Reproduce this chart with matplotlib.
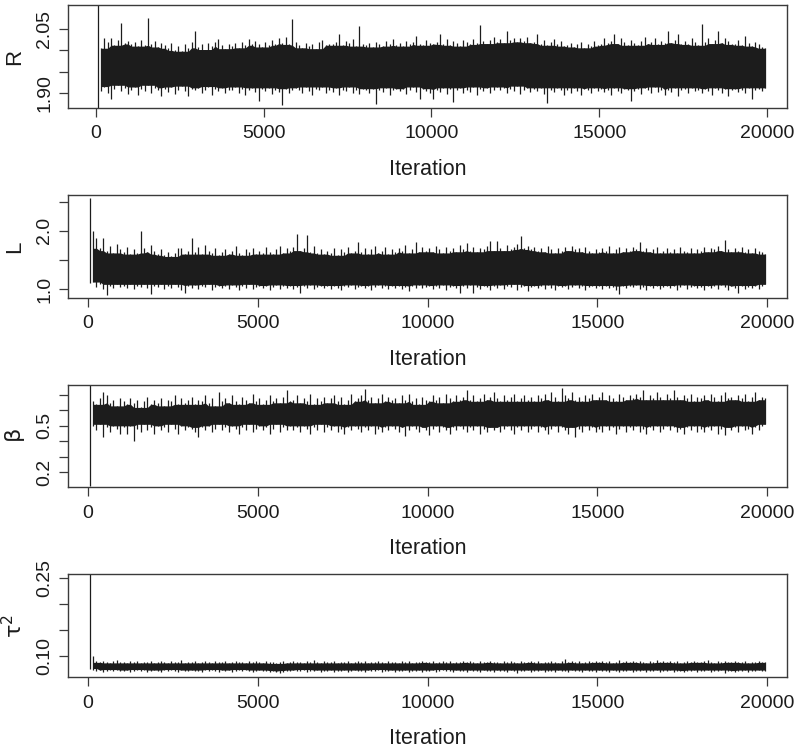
import matplotlib
matplotlib.use("Agg")
import matplotlib.pyplot as plt
import numpy as np

plt.rcParams['font.family'] = ['Liberation Sans', 'DejaVu Sans']
plt.rcParams['mathtext.fontset'] = 'dejavusans'

# ---- data: per-100-iteration envelope (max / min) of each MCMC trace ----
BIN = 100
R_hi = [2.15, 2.005, 2.030, 2.020, 2.028, 2.012, 2.025, 2.064, 2.018, 2.022,
        2.015, 2.020, 2.010, 2.024, 2.012, 2.075, 2.016, 2.022, 2.008, 2.018,
        2.012, 2.005, 2.018, 2.000, 2.010, 1.998, 2.014, 2.006, 2.020, 2.046,
        2.008, 2.015, 2.002, 2.018, 2.010, 2.020, 2.026, 2.012, 2.004, 2.016,
        2.010, 2.018, 2.006, 2.020, 2.012, 2.026, 2.014, 2.022, 2.016, 2.008,
        2.020, 2.012, 2.024, 2.016, 2.030, 2.018, 2.032, 2.014, 2.074, 2.020,
        2.012, 2.006, 2.018, 2.010, 2.015, 2.004, 2.020, 2.024, 2.012, 2.016,
        2.014, 2.020, 2.038, 2.012, 2.022, 2.018, 2.026, 2.010, 2.058, 2.016,
        2.012, 2.018, 2.008, 2.020, 2.014, 2.010, 2.022, 2.016, 2.026, 2.012,
        2.018, 2.010, 2.022, 2.014, 2.020, 2.034, 2.016, 2.012, 2.024, 2.018,
        2.015, 2.020, 2.038, 2.014, 2.026, 2.012, 2.022, 2.018, 2.010, 2.024,
        2.020, 2.014, 2.026, 2.018, 2.060, 2.022, 2.016, 2.024, 2.032, 2.020,
        2.026, 2.018, 2.045, 2.024, 2.030, 2.020, 2.028, 2.022, 2.032, 2.018,
        2.020, 2.038, 2.016, 2.024, 2.012, 2.020, 2.026, 2.014, 2.022, 2.010,
        2.012, 2.018, 2.008, 2.014, 2.020, 2.006, 2.016, 2.010, 2.022, 2.012,
        2.014, 2.028, 2.018, 2.022, 2.038, 2.016, 2.030, 2.020, 2.012, 2.024,
        2.018, 2.012, 2.022, 2.032, 2.016, 2.020, 2.028, 2.014, 2.022, 2.018,
        2.046, 2.018, 2.024, 2.038, 2.016, 2.022, 2.014, 2.028, 2.020, 2.012,
        2.062, 2.020, 2.028, 2.016, 2.024, 2.046, 2.018, 2.030, 2.022, 2.014,
        2.016, 2.024, 2.012, 2.034, 2.018, 2.010, 2.020, 2.014, 2.008, 2.005]
R_lo = [1.80, 1.905, 1.915, 1.900, 1.885, 1.910, 1.918, 1.904, 1.912, 1.898,
        1.908, 1.914, 1.896, 1.910, 1.904, 1.918, 1.900, 1.912, 1.906, 1.892,
        1.910, 1.902, 1.914, 1.898, 1.908, 1.916, 1.904, 1.894, 1.910, 1.906,
        1.912, 1.900, 1.908, 1.915, 1.896, 1.910, 1.904, 1.912, 1.900, 1.908,
        1.906, 1.914, 1.900, 1.910, 1.896, 1.908, 1.912, 1.902, 1.880, 1.910,
        1.904, 1.912, 1.898, 1.908, 1.902, 1.871, 1.910, 1.900, 1.906, 1.912,
        1.908, 1.900, 1.914, 1.904, 1.896, 1.910, 1.906, 1.914, 1.900, 1.908,
        1.902, 1.912, 1.896, 1.908, 1.904, 1.914, 1.900, 1.908, 1.898, 1.910,
        1.906, 1.900, 1.910, 1.875, 1.908, 1.902, 1.912, 1.896, 1.906, 1.910,
        1.904, 1.910, 1.898, 1.908, 1.914, 1.902, 1.886, 1.910, 1.904, 1.900,
        1.885, 1.908, 1.902, 1.912, 1.898, 1.910, 1.878, 1.906, 1.912, 1.900,
        1.908, 1.902, 1.914, 1.896, 1.910, 1.904, 1.912, 1.900, 1.908, 1.914,
        1.906, 1.912, 1.900, 1.910, 1.904, 1.916, 1.898, 1.908, 1.912, 1.902,
        1.910, 1.904, 1.912, 1.898, 1.876, 1.908, 1.902, 1.912, 1.906, 1.896,
        1.908, 1.900, 1.912, 1.904, 1.896, 1.910, 1.906, 1.900, 1.912, 1.904,
        1.910, 1.902, 1.908, 1.896, 1.912, 1.904, 1.900, 1.910, 1.906, 1.882,
        1.904, 1.910, 1.898, 1.912, 1.906, 1.900, 1.914, 1.902, 1.908, 1.896,
        1.908, 1.902, 1.912, 1.894, 1.906, 1.910, 1.900, 1.912, 1.904, 1.908,
        1.900, 1.910, 1.904, 1.896, 1.912, 1.906, 1.900, 1.910, 1.894, 1.906,
        1.910, 1.902, 1.908, 1.900, 1.912, 1.885, 1.906, 1.910, 1.904, 1.912]

L_hi = [2.57, 2.00, 1.88, 1.70, 1.88, 1.66, 1.74, 1.62, 1.78, 1.68,
        1.64, 1.72, 1.60, 1.68, 1.62, 1.995, 1.70, 1.64, 1.76, 1.66,
        1.60, 1.68, 1.58, 1.64, 1.56, 1.62, 1.70, 1.71, 1.60, 1.66,
        1.88, 1.64, 1.72, 1.60, 1.76, 1.66, 1.62, 1.70, 1.58, 1.64,
        1.68, 1.60, 1.66, 1.74, 1.62, 1.58, 1.68, 1.64, 1.70, 1.60,
        1.66, 1.62, 1.72, 1.64, 1.60, 1.68, 1.74, 1.62, 1.70, 1.66,
        1.72, 1.94, 1.66, 1.70, 1.92, 1.64, 1.74, 1.62, 1.68, 1.60,
        1.66, 1.62, 1.70, 1.58, 1.68, 1.64, 1.72, 1.62, 1.66, 1.80,
        1.64, 1.70, 1.60, 1.68, 1.74, 1.62, 1.66, 1.72, 1.60, 1.68,
        1.64, 1.70, 1.66, 1.76, 1.62, 1.68, 1.80, 1.64, 1.72, 1.66,
        1.70, 1.64, 1.74, 1.68, 1.62, 1.72, 1.66, 1.70, 1.64, 1.76,
        1.68, 1.79, 1.66, 1.72, 1.64, 1.70, 1.68, 1.74, 1.83, 1.66,
        1.82, 1.70, 1.66, 1.76, 1.68, 1.72, 1.78, 1.91, 1.70, 1.74,
        1.68, 1.72, 1.66, 1.70, 1.64, 1.74, 1.68, 1.62, 1.70, 1.66,
        1.72, 1.66, 1.74, 1.68, 1.70, 1.64, 1.72, 1.66, 1.62, 1.68,
        1.64, 1.70, 1.66, 1.74, 1.62, 1.68, 1.72, 1.64, 1.70, 1.66,
        1.72, 1.68, 1.80, 1.66, 1.70, 1.64, 1.68, 1.72, 1.62, 1.66,
        1.70, 1.64, 1.68, 1.62, 1.72, 1.66, 1.64, 1.70, 1.62, 1.68,
        1.66, 1.72, 1.64, 1.70, 1.68, 1.74, 1.66, 1.85, 1.68, 1.64,
        1.70, 1.66, 1.72, 1.64, 1.68, 1.62, 1.70, 1.66, 1.64, 1.60]
L_lo = [1.10, 1.12, 1.04, 1.08, 1.00, 0.89, 1.06, 1.02, 1.08, 1.04,
        1.06, 1.02, 1.08, 1.00, 1.05, 1.03, 1.08, 1.01, 0.92, 1.06,
        1.04, 1.08, 1.00, 1.06, 1.02, 1.08, 1.04, 0.98, 0.93, 1.06,
        1.02, 1.07, 1.00, 1.05, 1.03, 1.08, 0.99, 1.04, 1.06, 1.01,
        1.05, 1.00, 1.07, 1.03, 0.98, 1.06, 1.02, 1.08, 1.00, 1.04,
        1.06, 1.01, 1.05, 0.98, 1.04, 1.07, 1.00, 1.05, 1.02, 1.06,
        1.00, 1.04, 0.93, 1.06, 1.02, 1.07, 1.00, 1.04, 1.06, 1.01,
        1.05, 1.00, 1.06, 1.02, 0.98, 1.05, 1.03, 1.07, 1.00, 1.04,
        1.06, 1.01, 1.05, 0.99, 1.04, 1.07, 1.02, 1.05, 1.00, 1.06,
        1.02, 1.06, 1.00, 1.04, 0.97, 1.05, 1.02, 1.07, 1.01, 1.04,
        1.06, 1.00, 1.05, 1.02, 1.07, 0.99, 1.04, 1.06, 1.01, 0.93,
        1.05, 1.02, 1.07, 0.93, 1.04, 1.00, 1.06, 1.03, 0.98, 1.05,
        1.02, 1.07, 1.00, 1.05, 1.03, 1.08, 0.99, 1.04, 1.06, 0.97,
        1.04, 1.06, 1.01, 1.05, 1.00, 1.07, 1.02, 0.98, 1.05, 1.03,
        1.06, 1.00, 1.04, 1.07, 1.01, 1.05, 0.99, 1.04, 1.06, 1.02,
        1.05, 1.00, 1.06, 1.02, 1.04, 0.98, 0.92, 1.05, 1.01, 1.06,
        1.03, 1.07, 1.00, 1.04, 0.98, 1.06, 1.02, 1.05, 1.00, 1.04,
        1.06, 1.01, 1.05, 0.99, 1.04, 1.07, 1.00, 1.03, 1.06, 1.01,
        1.04, 0.98, 1.06, 1.02, 1.05, 1.00, 1.07, 1.03, 0.99, 1.05,
        1.02, 0.93, 1.06, 1.00, 1.04, 1.02, 1.06, 1.00, 1.05, 1.08]

beta_hi = [0.78, 0.66, 0.64, 0.68, 0.72, 0.70, 0.65, 0.67, 0.63, 0.68,
           0.66, 0.64, 0.68, 0.65, 0.67, 0.62, 0.66, 0.69, 0.64, 0.67,
           0.65, 0.68, 0.63, 0.67, 0.66, 0.70, 0.64, 0.68, 0.65, 0.67,
           0.69, 0.64, 0.67, 0.66, 0.70, 0.65, 0.68, 0.63, 0.72, 0.66,
           0.68, 0.65, 0.70, 0.66, 0.64, 0.69, 0.67, 0.65, 0.71, 0.66,
           0.68, 0.64, 0.67, 0.70, 0.66, 0.68, 0.65, 0.69, 0.73, 0.66,
           0.67, 0.70, 0.65, 0.68, 0.66, 0.71, 0.64, 0.68, 0.66, 0.69,
           0.65, 0.68, 0.70, 0.66, 0.69, 0.64, 0.67, 0.71, 0.66, 0.68,
           0.70, 0.74, 0.67, 0.69, 0.65, 0.68, 0.71, 0.66, 0.69, 0.67,
           0.68, 0.65, 0.70, 0.67, 0.71, 0.66, 0.68, 0.64, 0.69, 0.67,
           0.66, 0.70, 0.67, 0.69, 0.65, 0.71, 0.68, 0.66, 0.70, 0.67,
           0.69, 0.736, 0.67, 0.70, 0.66, 0.68, 0.71, 0.67, 0.69, 0.72,
           0.68, 0.66, 0.70, 0.67, 0.69, 0.71, 0.66, 0.68, 0.70, 0.67,
           0.69, 0.66, 0.70, 0.68, 0.71, 0.67, 0.72, 0.69, 0.66, 0.745,
           0.70, 0.68, 0.72, 0.67, 0.69, 0.66, 0.70, 0.68, 0.71, 0.67,
           0.69, 0.72, 0.67, 0.70, 0.68, 0.66, 0.71, 0.69, 0.67, 0.70,
           0.68, 0.71, 0.69, 0.735, 0.67, 0.70, 0.68, 0.72, 0.69, 0.67,
           0.71, 0.68, 0.73, 0.69, 0.67, 0.70, 0.68, 0.71, 0.66, 0.69,
           0.68, 0.70, 0.67, 0.71, 0.69, 0.66, 0.70, 0.72, 0.68, 0.69,
           0.67, 0.70, 0.68, 0.71, 0.66, 0.69, 0.72, 0.67, 0.69, 0.68]
beta_lo = [0.11, 0.50, 0.47, 0.51, 0.43, 0.49, 0.46, 0.50, 0.48, 0.45,
           0.49, 0.45, 0.50, 0.40, 0.48, 0.46, 0.51, 0.47, 0.49, 0.45,
           0.50, 0.47, 0.49, 0.46, 0.51, 0.48, 0.45, 0.50, 0.47, 0.49,
           0.48, 0.46, 0.43, 0.49, 0.47, 0.50, 0.46, 0.48, 0.51, 0.47,
           0.49, 0.46, 0.50, 0.48, 0.45, 0.49, 0.47, 0.51, 0.46, 0.48,
           0.50, 0.47, 0.49, 0.45, 0.48, 0.51, 0.46, 0.49, 0.47, 0.50,
           0.47, 0.49, 0.46, 0.50, 0.48, 0.45, 0.49, 0.47, 0.51, 0.46,
           0.49, 0.47, 0.50, 0.46, 0.48, 0.45, 0.49, 0.47, 0.50, 0.48,
           0.46, 0.49, 0.47, 0.50, 0.45, 0.48, 0.46, 0.49, 0.47, 0.50,
           0.48, 0.46, 0.49, 0.435, 0.47, 0.50, 0.48, 0.46, 0.49, 0.47,
           0.44, 0.48, 0.50, 0.46, 0.49, 0.47, 0.45, 0.49, 0.47, 0.50,
           0.48, 0.46, 0.49, 0.47, 0.50, 0.45, 0.48, 0.46, 0.49, 0.47,
           0.49, 0.46, 0.48, 0.50, 0.47, 0.45, 0.49, 0.47, 0.50, 0.46,
           0.48, 0.50, 0.46, 0.49, 0.47, 0.45, 0.48, 0.50, 0.46, 0.49,
           0.47, 0.45, 0.49, 0.43, 0.48, 0.46, 0.50, 0.47, 0.49, 0.46,
           0.48, 0.46, 0.50, 0.47, 0.49, 0.45, 0.48, 0.50, 0.46, 0.49,
           0.47, 0.50, 0.46, 0.48, 0.45, 0.49, 0.47, 0.50, 0.46, 0.48,
           0.50, 0.47, 0.49, 0.46, 0.48, 0.45, 0.49, 0.47, 0.50, 0.46,
           0.48, 0.46, 0.49, 0.47, 0.50, 0.45, 0.48, 0.44, 0.49, 0.47,
           0.49, 0.46, 0.50, 0.47, 0.48, 0.45, 0.49, 0.47, 0.50, 0.51]

tau2_hi = [0.26, 0.100, 0.089, 0.087, 0.090, 0.088, 0.086, 0.089, 0.091, 0.087,
           0.088, 0.086, 0.089, 0.087, 0.090, 0.086, 0.088, 0.087, 0.089, 0.086,
           0.088, 0.090, 0.087, 0.086, 0.089, 0.087, 0.088, 0.091, 0.086, 0.088,
           0.087, 0.089, 0.086, 0.088, 0.090, 0.087, 0.086, 0.089, 0.088, 0.087,
           0.089, 0.086, 0.088, 0.090, 0.087, 0.088, 0.086, 0.089, 0.087, 0.090,
           0.088, 0.086, 0.089, 0.087, 0.088, 0.085, 0.087, 0.089, 0.086, 0.088,
           0.090, 0.087, 0.088, 0.086, 0.089, 0.087, 0.091, 0.088, 0.086, 0.089,
           0.087, 0.088, 0.090, 0.086, 0.088, 0.087, 0.089, 0.086, 0.088, 0.090,
           0.087, 0.089, 0.086, 0.088, 0.087, 0.090, 0.088, 0.086, 0.089, 0.087,
           0.088, 0.086, 0.090, 0.087, 0.089, 0.086, 0.088, 0.087, 0.090, 0.088,
           0.087, 0.089, 0.086, 0.088, 0.090, 0.087, 0.089, 0.086, 0.088, 0.087,
           0.089, 0.087, 0.090, 0.088, 0.086, 0.089, 0.087, 0.088, 0.090, 0.087,
           0.088, 0.086, 0.089, 0.087, 0.090, 0.088, 0.086, 0.089, 0.087, 0.088,
           0.090, 0.087, 0.089, 0.086, 0.088, 0.087, 0.089, 0.088, 0.086, 0.090,
           0.093, 0.088, 0.090, 0.087, 0.089, 0.086, 0.088, 0.090, 0.087, 0.089,
           0.088, 0.090, 0.087, 0.089, 0.086, 0.088, 0.091, 0.087, 0.089, 0.088,
           0.090, 0.087, 0.089, 0.088, 0.086, 0.090, 0.088, 0.092, 0.087, 0.089,
           0.088, 0.090, 0.087, 0.089, 0.086, 0.088, 0.090, 0.087, 0.089, 0.088,
           0.087, 0.089, 0.091, 0.088, 0.086, 0.089, 0.087, 0.090, 0.088, 0.087,
           0.089, 0.087, 0.088, 0.090, 0.086, 0.088, 0.087, 0.089, 0.088, 0.087]
tau2_lo = [0.075, 0.072, 0.070, 0.072, 0.069, 0.071, 0.073, 0.070, 0.072, 0.071,
           0.070, 0.072, 0.069, 0.071, 0.073, 0.070, 0.072, 0.068, 0.071, 0.072,
           0.071, 0.069, 0.072, 0.070, 0.073, 0.071, 0.069, 0.072, 0.070, 0.071,
           0.072, 0.070, 0.071, 0.069, 0.072, 0.070, 0.073, 0.071, 0.069, 0.072,
           0.070, 0.072, 0.069, 0.071, 0.073, 0.070, 0.072, 0.071, 0.069, 0.071,
           0.072, 0.070, 0.071, 0.069, 0.070, 0.068, 0.067, 0.069, 0.071, 0.070,
           0.072, 0.070, 0.071, 0.073, 0.069, 0.071, 0.070, 0.072, 0.069, 0.071,
           0.070, 0.072, 0.069, 0.071, 0.070, 0.072, 0.068, 0.071, 0.072, 0.070,
           0.071, 0.069, 0.072, 0.070, 0.071, 0.073, 0.069, 0.071, 0.070, 0.072,
           0.069, 0.071, 0.070, 0.072, 0.068, 0.071, 0.070, 0.072, 0.069, 0.071,
           0.070, 0.072, 0.069, 0.071, 0.073, 0.070, 0.071, 0.069, 0.072, 0.070,
           0.071, 0.069, 0.072, 0.070, 0.071, 0.068, 0.072, 0.070, 0.071, 0.069,
           0.072, 0.070, 0.071, 0.069, 0.072, 0.070, 0.067, 0.071, 0.070, 0.072,
           0.069, 0.071, 0.070, 0.072, 0.069, 0.071, 0.070, 0.068, 0.072, 0.070,
           0.071, 0.069, 0.072, 0.070, 0.071, 0.069, 0.072, 0.070, 0.071, 0.069,
           0.072, 0.070, 0.071, 0.069, 0.072, 0.070, 0.068, 0.071, 0.070, 0.072,
           0.069, 0.071, 0.070, 0.072, 0.069, 0.071, 0.070, 0.072, 0.069, 0.071,
           0.070, 0.072, 0.069, 0.071, 0.070, 0.068, 0.071, 0.070, 0.072, 0.069,
           0.071, 0.070, 0.072, 0.069, 0.071, 0.070, 0.072, 0.067, 0.070, 0.071,
           0.069, 0.071, 0.070, 0.072, 0.069, 0.071, 0.070, 0.072, 0.070, 0.071]

x_ticks = [0, 5000, 10000, 15000, 20000]
x_ticklabels = ["0", "5000", "10000", "15000", "20000"]
x_title = "Iteration"

R_yticks = [1.90, 1.95, 2.00, 2.05]
R_yticklabels = ["1.90", "", "", "2.05"]
L_yticks = [1.0, 1.5, 2.0, 2.5]
L_yticklabels = ["1.0", "", "2.0", ""]
beta_yticks = [0.2, 0.3, 0.4, 0.5, 0.6, 0.7]
beta_yticklabels = ["0.2", "", "", "0.5", "", ""]
tau2_yticks = [0.10, 0.15, 0.20, 0.25]
tau2_yticklabels = ["0.10", "", "", "0.25"]

panels = [
    dict(label="R", hi=R_hi, lo=R_lo, yt=R_yticks, ytl=R_yticklabels,
         ylim=(1.8647, 2.1065), xlim=(-834, 20596), box=(5, 108)),
    dict(label="L", hi=L_hi, lo=L_lo, yt=L_yticks, ytl=L_yticklabels,
         ylim=(0.851, 2.615), xlim=(-589, 20589), box=(195, 297.7)),
    dict(label=r"$\mathrm{\beta}$", hi=beta_hi, lo=beta_lo, yt=beta_yticks, ytl=beta_yticklabels,
         ylim=(0.1004, 0.769), xlim=(-589, 20589), box=(384.5, 487.3)),
    dict(label=r"$\mathrm{\tau}^2$", hi=tau2_hi, lo=tau2_lo, yt=tau2_yticks, ytl=tau2_yticklabels,
         ylim=(0.058, 0.2578), xlim=(-589, 20589), box=(574.3, 677.3)),
]

W, H = 800, 749
fig = plt.figure(figsize=(W / 100, H / 100), dpi=100)
INK = "#1c1c1c"
FRAME = "#3a3a3a"
FS = 14


def rolling(a, fn, k):
    ap = np.pad(a, k, mode="edge")
    out = ap[k:len(ap) - k].copy()
    for s in range(-k, k + 1):
        out = fn(out, ap[k + s:len(ap) - k + s])
    return out


for p in panels:
    top, bot = p["box"]
    ax = fig.add_axes([68 / W, 1 - bot / H, (787 - 68) / W, (bot - top) / H])
    hi = np.asarray(p["hi"])
    lo = np.asarray(p["lo"])
    xc = np.arange(len(hi)) * BIN + BIN / 2
    # dense core: the part of the band every neighbouring bin covers
    core_hi = rolling(hi, np.minimum, 2)
    core_lo = rolling(lo, np.maximum, 2)
    ax.fill_between(xc[1:], core_lo[1:], core_hi[1:], color=INK, lw=0)
    # per-bin excursions as thin trace strokes
    ax.vlines(xc, lo, hi, color=INK, lw=0.9)
    ax.set_xlim(*p["xlim"])
    ax.set_ylim(*p["ylim"])
    ax.set_xticks(x_ticks)
    ax.set_xticklabels(x_ticklabels)
    ax.set_yticks(p["yt"])
    ax.set_yticklabels(p["ytl"])
    for s in ax.spines.values():
        s.set_color(FRAME)
        s.set_linewidth(1.0)
    ax.tick_params(axis="both", direction="out", length=6.5, width=0.9,
                   color=FRAME, labelsize=FS, labelcolor=INK)
    ax.tick_params(axis="x", pad=6)
    ax.tick_params(axis="y", pad=4, labelrotation=90)
    for t in ax.get_yticklabels():
        t.set_va("center")
    fig.text(15 / W, 1 - ((top + bot) / 2) / H, p["label"], rotation=90,
             ha="center", va="center", fontsize=16, color=INK)
    fig.text(427.5 / W, 1 - (bot + 67) / H, x_title, ha="center",
             va="baseline", fontsize=15.5, color=INK)

fig.savefig("out.png", dpi=100)
